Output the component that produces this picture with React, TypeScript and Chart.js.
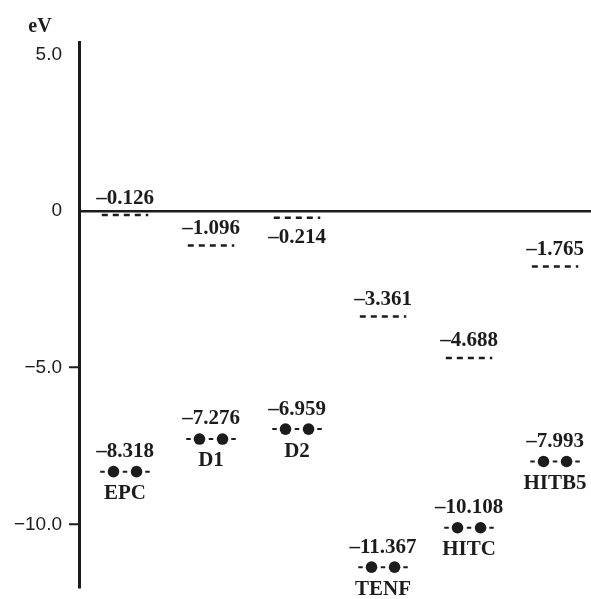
import React, { useEffect, useRef } from "react";
import { Chart, registerables } from "chart.js";

Chart.register(...registerables);

// ---- data ----
const categories = ["EPC", "D1", "D2", "TENF", "HITC", "HITB5"];
const lumoValues = [-0.126, -1.096, -0.214, -3.361, -4.688, -1.765];
const homoValues = [-8.318, -7.276, -6.959, -11.367, -10.108, -7.993];
const yTickValues = [5, 0, -5, -10];
const yTickLabels = ["5.0", "0", "\u22125.0", "\u221210.0"];
const unitLabel = "eV";
const lumoLabelBelow = ["D2"];

const INK = "#1c1c1c";
const SERIF = "'Liberation Serif', 'Times New Roman', serif";
const SANS = "'Liberation Sans', Arial, sans-serif";

const fmt = (v: number) => (v < 0 ? "\u2013" : "") + Math.abs(v).toFixed(3);

const labelsPlugin = {
  id: "levelLabels",
  afterDatasetsDraw(chart: any) {
    const { ctx, scales, chartArea } = chart;
    const x = scales.x;
    const y = scales.y;
    ctx.save();
    ctx.fillStyle = INK;
    ctx.textAlign = "center";
    ctx.textBaseline = "middle";
    ctx.font = `bold 21px ${SERIF}`;
    categories.forEach((name, i) => {
      const px = x.getPixelForValue(i);
      const ly = y.getPixelForValue(lumoValues[i]);
      const below = lumoLabelBelow.includes(name);
      ctx.fillText(fmt(lumoValues[i]), px, below ? ly + 20 : ly - 17);
      const hy = y.getPixelForValue(homoValues[i]);
      ctx.fillText(fmt(homoValues[i]), px, hy - 20);
      ctx.fillText(name, px, hy + 22);
    });
    ctx.font = `bold 20px ${SERIF}`;
    ctx.fillText(unitLabel, chartArea.left - 39, chartArea.top - 15);
    ctx.restore();
  },
};

export default function App() {
  const canvasRef = useRef<HTMLCanvasElement | null>(null);

  useEffect(() => {
    if (!canvasRef.current) return;
    const datasets: any[] = [];
    categories.forEach((_, i) => {
      const lv = lumoValues[i];
      datasets.push({
        data: [
          { x: i - 0.27, y: lv },
          { x: i + 0.27, y: lv },
        ],
        borderColor: INK,
        borderWidth: 2.5,
        borderDash: [6, 5],
        pointRadius: 0,
        fill: false,
      });
      const hv = homoValues[i];
      datasets.push({
        data: [
          { x: i - 0.288, y: hv },
          { x: i - 0.134, y: hv },
          { x: i + 0.134, y: hv },
          { x: i + 0.288, y: hv },
        ],
        borderColor: INK,
        borderWidth: 2,
        borderDash: [4.5, 18],
        pointRadius: [0, 5.8, 5.8, 0],
        pointBackgroundColor: INK,
        pointBorderWidth: 0,
        fill: false,
      });
    });

    const chart = new Chart(canvasRef.current, {
      type: "line",
      data: { datasets },
      plugins: [labelsPlugin],
      options: {
        animation: false,
        responsive: true,
        maintainAspectRatio: false,
        layout: { padding: { top: 42, bottom: 12, left: 0, right: 0 } },
        plugins: { legend: { display: false }, tooltip: { enabled: false } },
        events: [],
        scales: {
          x: { type: "linear", min: -0.535, max: 5.418, display: false },
          y: {
            type: "linear",
            min: -12,
            max: 5.4,
            afterFit(scale: any) {
              scale.width = 79;
              scale.paddingTop = 0;
              scale.paddingBottom = 0;
            },
            afterBuildTicks(scale: any) {
              scale.ticks = yTickValues.map((v) => ({ value: v }));
            },
            ticks: {
              callback: (v: any) => {
                const k = yTickValues.indexOf(Number(v));
                return k >= 0 ? yTickLabels[k] : "";
              },
              font: { family: SANS, size: 19 },
              color: INK,
              padding: 7,
            },
            grid: {
              drawOnChartArea: true,
              drawTicks: true,
              tickLength: 10,
              lineWidth: 2.5,
              tickWidth: 2,
              color: (c: any) => (c.tick && c.tick.value === 0 ? INK : "rgba(0,0,0,0)"),
              tickColor: (c: any) =>
                c.tick && (c.tick.value === -5 || c.tick.value === -10) ? INK : "rgba(0,0,0,0)",
            },
            border: { display: true, color: INK, width: 3 },
          },
        },
      } as any,
    });
    return () => chart.destroy();
  }, []);

  return (
    <div style={{ position: "absolute", left: 0, top: 0, width: 591, height: 599 }}>
      <canvas ref={canvasRef} />
    </div>
  );
}
